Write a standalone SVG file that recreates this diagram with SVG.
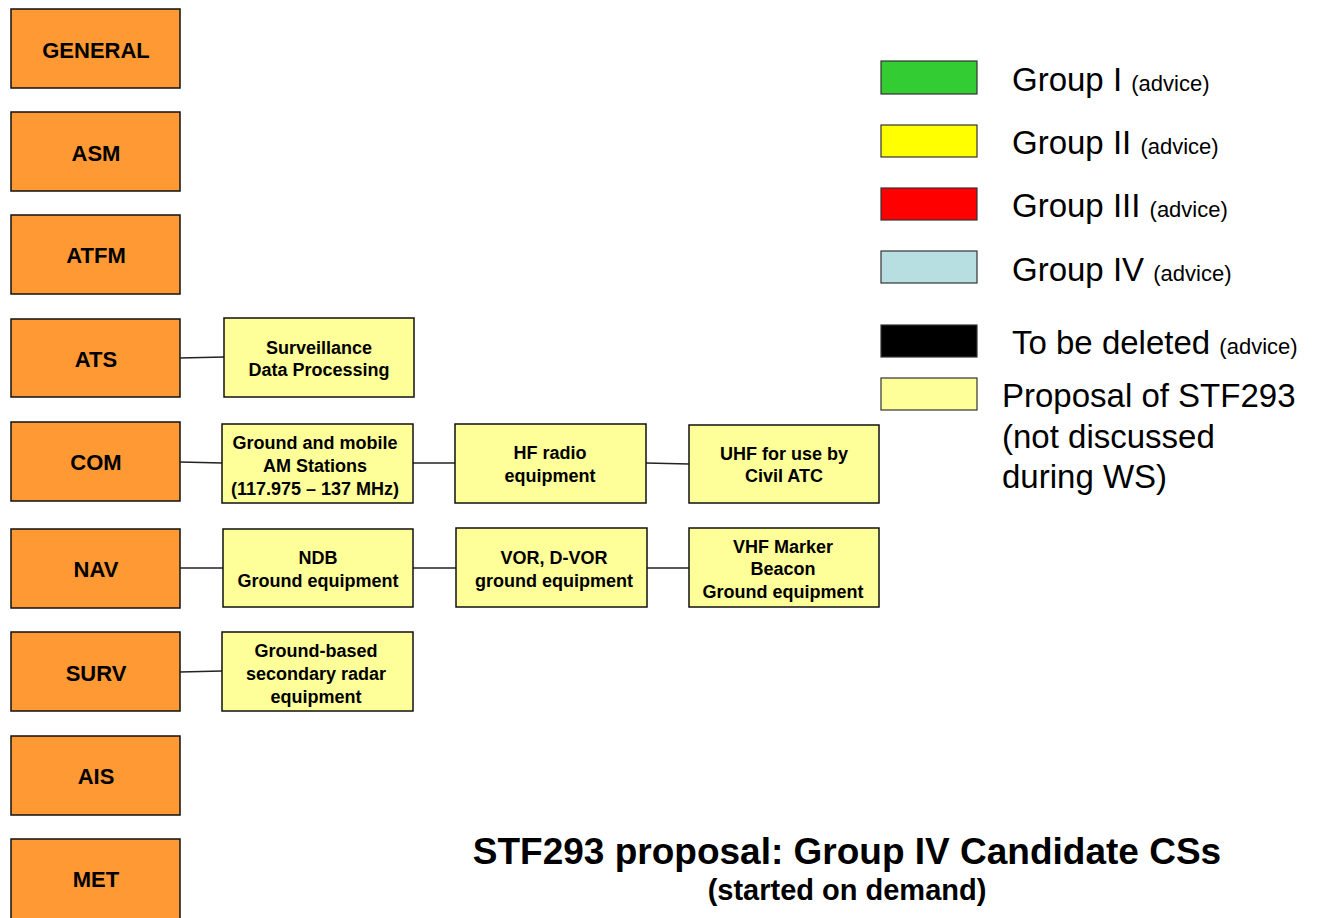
<svg xmlns="http://www.w3.org/2000/svg" width="1322" height="918" viewBox="0 0 1322 918">
  <style>
    text { font-family: "Liberation Sans", Arial, sans-serif; fill: #000; }
    .domain rect { fill: #FF9933; stroke: #111; stroke-width: 1.5; }
    .domain text { font-size: 22px; font-weight: bold; text-anchor: middle; }
    .cs rect { fill: #FFFF99; stroke: #111; stroke-width: 1.5; }
    .cs text { font-size: 18px; font-weight: bold; text-anchor: middle; }
    .link { stroke: #222; stroke-width: 1.5; fill: none; }
    .swatch { stroke: #333; stroke-width: 1.2; }
    .lg { font-size: 33px; }
    .lg tspan.small { font-size: 22px; }
    .title { font-weight: bold; text-anchor: middle; }
  </style>

  <!-- Domain column -->
  <g id="general" class="domain"><rect x="11" y="9" width="169" height="79"/><text x="96" y="57.5">GENERAL</text></g>
  <g id="asm" class="domain"><rect x="11" y="112" width="169" height="79"/><text x="96" y="160.5">ASM</text></g>
  <g id="atfm" class="domain"><rect x="11" y="215" width="169" height="79"/><text x="96" y="262.5">ATFM</text></g>
  <g id="ats" class="domain"><rect x="11" y="319" width="169" height="78"/><text x="96" y="366.5">ATS</text></g>
  <g id="com" class="domain"><rect x="11" y="422" width="169" height="79"/><text x="96" y="469.5">COM</text></g>
  <g id="nav" class="domain"><rect x="11" y="529" width="169" height="79"/><text x="96" y="576.5">NAV</text></g>
  <g id="surv" class="domain"><rect x="11" y="632" width="169" height="79"/><text x="96" y="680.5">SURV</text></g>
  <g id="ais" class="domain"><rect x="11" y="736" width="169" height="79"/><text x="96" y="783.5">AIS</text></g>
  <g id="met" class="domain"><rect x="11" y="839" width="169" height="80"/><text x="96" y="886.5">MET</text></g>

  <!-- Connectors -->
  <g id="connectors">
    <line class="link" x1="180" y1="358" x2="224" y2="357"/>
    <line class="link" x1="180" y1="462" x2="222" y2="463"/>
    <line class="link" x1="413" y1="463" x2="455" y2="463"/>
    <line class="link" x1="646" y1="463" x2="689" y2="464"/>
    <line class="link" x1="180" y1="568" x2="223" y2="568"/>
    <line class="link" x1="413" y1="568" x2="456" y2="568"/>
    <line class="link" x1="647" y1="568" x2="689" y2="568"/>
    <line class="link" x1="180" y1="672" x2="222" y2="671"/>
  </g>

  <!-- Candidate community specifications -->
  <g id="sdp" class="cs">
    <rect x="224" y="318" width="190" height="79"/>
    <text x="319" y="353.5">Surveillance</text>
    <text x="319" y="375.5">Data Processing</text>
  </g>
  <g id="am-stations" class="cs">
    <rect x="222" y="424" width="191" height="79"/>
    <text x="315" y="448.5">Ground and mobile</text>
    <text x="315" y="471.5">AM Stations</text>
    <text x="315" y="494.5">(117.975 – 137 MHz)</text>
  </g>
  <g id="hf-radio" class="cs">
    <rect x="455" y="424" width="191" height="79"/>
    <text x="550" y="458.5">HF radio</text>
    <text x="550" y="481.5">equipment</text>
  </g>
  <g id="uhf" class="cs">
    <rect x="689" y="425" width="190" height="78"/>
    <text x="784" y="459.5">UHF for use by</text>
    <text x="784" y="481.5">Civil ATC</text>
  </g>
  <g id="ndb" class="cs">
    <rect x="223" y="529" width="190" height="78"/>
    <text x="318" y="563.5">NDB</text>
    <text x="318" y="586.5">Ground equipment</text>
  </g>
  <g id="vor" class="cs">
    <rect x="456" y="528" width="191" height="79"/>
    <text x="554" y="563.5">VOR, D-VOR</text>
    <text x="554" y="586.5">ground equipment</text>
  </g>
  <g id="marker-beacon" class="cs">
    <rect x="689" y="528" width="190" height="79"/>
    <text x="783" y="552.5">VHF Marker</text>
    <text x="783" y="574.5">Beacon</text>
    <text x="783" y="597.5">Ground equipment</text>
  </g>
  <g id="ssr" class="cs">
    <rect x="222" y="632" width="191" height="79"/>
    <text x="316" y="656.5">Ground-based</text>
    <text x="316" y="679.5">secondary radar</text>
    <text x="316" y="702.5">equipment</text>
  </g>

  <!-- Legend -->
  <g id="legend">
    <rect class="swatch" x="881" y="61" width="96" height="33" fill="#33CC33"/>
    <text class="lg" x="1012" y="91">Group I <tspan class="small">(advice)</tspan></text>
    <rect class="swatch" x="881" y="125" width="96" height="32" fill="#FFFF00"/>
    <text class="lg" x="1012" y="154">Group II <tspan class="small">(advice)</tspan></text>
    <rect class="swatch" x="881" y="188" width="96" height="32" fill="#FF0000"/>
    <text class="lg" x="1012" y="217">Group III <tspan class="small">(advice)</tspan></text>
    <rect class="swatch" x="881" y="251" width="96" height="32" fill="#B7DEE0"/>
    <text class="lg" x="1012" y="281">Group IV <tspan class="small">(advice)</tspan></text>
    <rect class="swatch" x="881" y="325" width="96" height="32" fill="#000000"/>
    <text class="lg" x="1012" y="354">To be deleted <tspan class="small">(advice)</tspan></text>
    <rect class="swatch" x="881" y="378" width="96" height="32" fill="#FFFF99"/>
    <text class="lg" x="1002" y="407">Proposal of STF293</text>
    <text class="lg" x="1002" y="448">(not discussed</text>
    <text class="lg" x="1002" y="488">during WS)</text>
  </g>

  <!-- Title -->
  <g id="title">
    <text class="title" x="847" y="864" font-size="37">STF293 proposal: Group IV Candidate CSs</text>
    <text class="title" x="847" y="900" font-size="29">(started on demand)</text>
  </g>
</svg>
